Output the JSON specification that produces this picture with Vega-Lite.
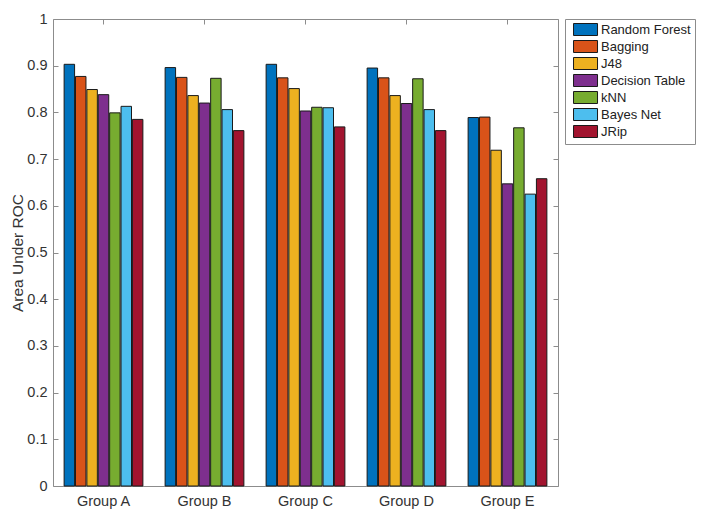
{
  "$schema": "https://vega.github.io/schema/vega-lite/v6.json",
  "autosize": "none",
  "width": 505,
  "height": 467,
  "padding": {"left": 53, "top": 19, "right": 145, "bottom": 31},
  "background": "white",
  "config": {
    "font": "Liberation Sans",
    "view": {"stroke": "#8c8c8c", "strokeWidth": 1},
    "axis": {
      "domain": false,
      "grid": false,
      "tickColor": "#8c8c8c",
      "tickSize": -5,
      "labelColor": "#333333",
      "labelFontSize": 14.5,
      "labelFont": "Liberation Sans",
      "titleFont": "Liberation Sans",
      "titleColor": "#333333",
      "titleFontWeight": "normal"
    }
  },
  "data": {
    "values": [
      {"group": "Group A", "method": "Random Forest", "auc": 0.903},
      {"group": "Group A", "method": "Bagging", "auc": 0.877},
      {"group": "Group A", "method": "J48", "auc": 0.849},
      {"group": "Group A", "method": "Decision Table", "auc": 0.838},
      {"group": "Group A", "method": "kNN", "auc": 0.799},
      {"group": "Group A", "method": "Bayes Net", "auc": 0.813},
      {"group": "Group A", "method": "JRip", "auc": 0.785},
      {"group": "Group B", "method": "Random Forest", "auc": 0.896},
      {"group": "Group B", "method": "Bagging", "auc": 0.875},
      {"group": "Group B", "method": "J48", "auc": 0.836},
      {"group": "Group B", "method": "Decision Table", "auc": 0.820},
      {"group": "Group B", "method": "kNN", "auc": 0.873},
      {"group": "Group B", "method": "Bayes Net", "auc": 0.806},
      {"group": "Group B", "method": "JRip", "auc": 0.761},
      {"group": "Group C", "method": "Random Forest", "auc": 0.903},
      {"group": "Group C", "method": "Bagging", "auc": 0.874},
      {"group": "Group C", "method": "J48", "auc": 0.851},
      {"group": "Group C", "method": "Decision Table", "auc": 0.803},
      {"group": "Group C", "method": "kNN", "auc": 0.811},
      {"group": "Group C", "method": "Bayes Net", "auc": 0.810},
      {"group": "Group C", "method": "JRip", "auc": 0.769},
      {"group": "Group D", "method": "Random Forest", "auc": 0.895},
      {"group": "Group D", "method": "Bagging", "auc": 0.874},
      {"group": "Group D", "method": "J48", "auc": 0.836},
      {"group": "Group D", "method": "Decision Table", "auc": 0.819},
      {"group": "Group D", "method": "kNN", "auc": 0.872},
      {"group": "Group D", "method": "Bayes Net", "auc": 0.806},
      {"group": "Group D", "method": "JRip", "auc": 0.761},
      {"group": "Group E", "method": "Random Forest", "auc": 0.789},
      {"group": "Group E", "method": "Bagging", "auc": 0.790},
      {"group": "Group E", "method": "J48", "auc": 0.719},
      {"group": "Group E", "method": "Decision Table", "auc": 0.647},
      {"group": "Group E", "method": "kNN", "auc": 0.767},
      {"group": "Group E", "method": "Bayes Net", "auc": 0.625},
      {"group": "Group E", "method": "JRip", "auc": 0.658}
    ]
  },
  "layer": [
    {
      "mark": {"type": "bar", "stroke": "#1a1a1a", "strokeWidth": 1},
      "encoding": {
        "x": {
          "field": "group",
          "type": "nominal",
          "sort": null,
          "scale": {"paddingInner": 0.22, "paddingOuter": 0.11},
          "axis": {"title": null, "labelAngle": 0, "labelPadding": 13, "tickSize": -5}
        },
        "xOffset": {
          "field": "method",
          "type": "nominal",
          "sort": ["Random Forest", "Bagging", "J48", "Decision Table", "kNN", "Bayes Net", "JRip"],
          "scale": {"paddingInner": 0.08, "paddingOuter": 0}
        },
        "y": {
          "field": "auc",
          "type": "quantitative",
          "scale": {"domain": [0, 1], "nice": false},
          "axis": {
            "title": "Area Under ROC",
            "titleFontSize": 15.5,
            "titleX": -36,
            "titleY": 233.5,
            "titleBaseline": "middle",
            "values": [0, 0.1, 0.2, 0.3, 0.4, 0.5, 0.6, 0.7, 0.8, 0.9, 1],
            "format": "~g",
            "labelPadding": 11
          }
        },
        "color": {
          "field": "method",
          "type": "nominal",
          "sort": ["Random Forest", "Bagging", "J48", "Decision Table", "kNN", "Bayes Net", "JRip"],
          "scale": {
            "domain": ["Random Forest", "Bagging", "J48", "Decision Table", "kNN", "Bayes Net", "JRip"],
            "range": ["#0072BD", "#D95319", "#EDB120", "#7E2F8E", "#77AC30", "#4DBEEE", "#A2142F"]
          },
          "legend": {
            "title": null,
            "orient": "none",
            "legendX": 512,
            "legendY": 0,
            "padding": 4,
            "strokeColor": "#8c8c8c",
            "fillColor": "white",
            "symbolType": "M-0.33,-1H3.67V1H-0.33Z",
            "symbolSize": 144,
            "symbolStrokeColor": "#1a1a1a",
            "symbolStrokeWidth": 1,
            "symbolOpacity": 1,
            "labelFontSize": 13,
            "labelColor": "#222222",
            "labelOffset": 19,
            "rowPadding": 0,
            "labelLimit": 200
          }
        }
      }
    },
    {
      "mark": {"type": "bar", "opacity": 0},
      "encoding": {
        "x": {
          "field": "group",
          "type": "nominal",
          "sort": null,
          "axis": {"orient": "top", "labels": false, "title": null, "tickSize": -5}
        },
        "y": {
          "field": "auc",
          "type": "quantitative",
          "axis": {
            "orient": "right",
            "labels": false,
            "title": null,
            "values": [0, 0.1, 0.2, 0.3, 0.4, 0.5, 0.6, 0.7, 0.8, 0.9, 1],
            "tickSize": -5
          }
        }
      }
    }
  ],
  "resolve": {"axis": {"x": "independent", "y": "independent"}}
}
